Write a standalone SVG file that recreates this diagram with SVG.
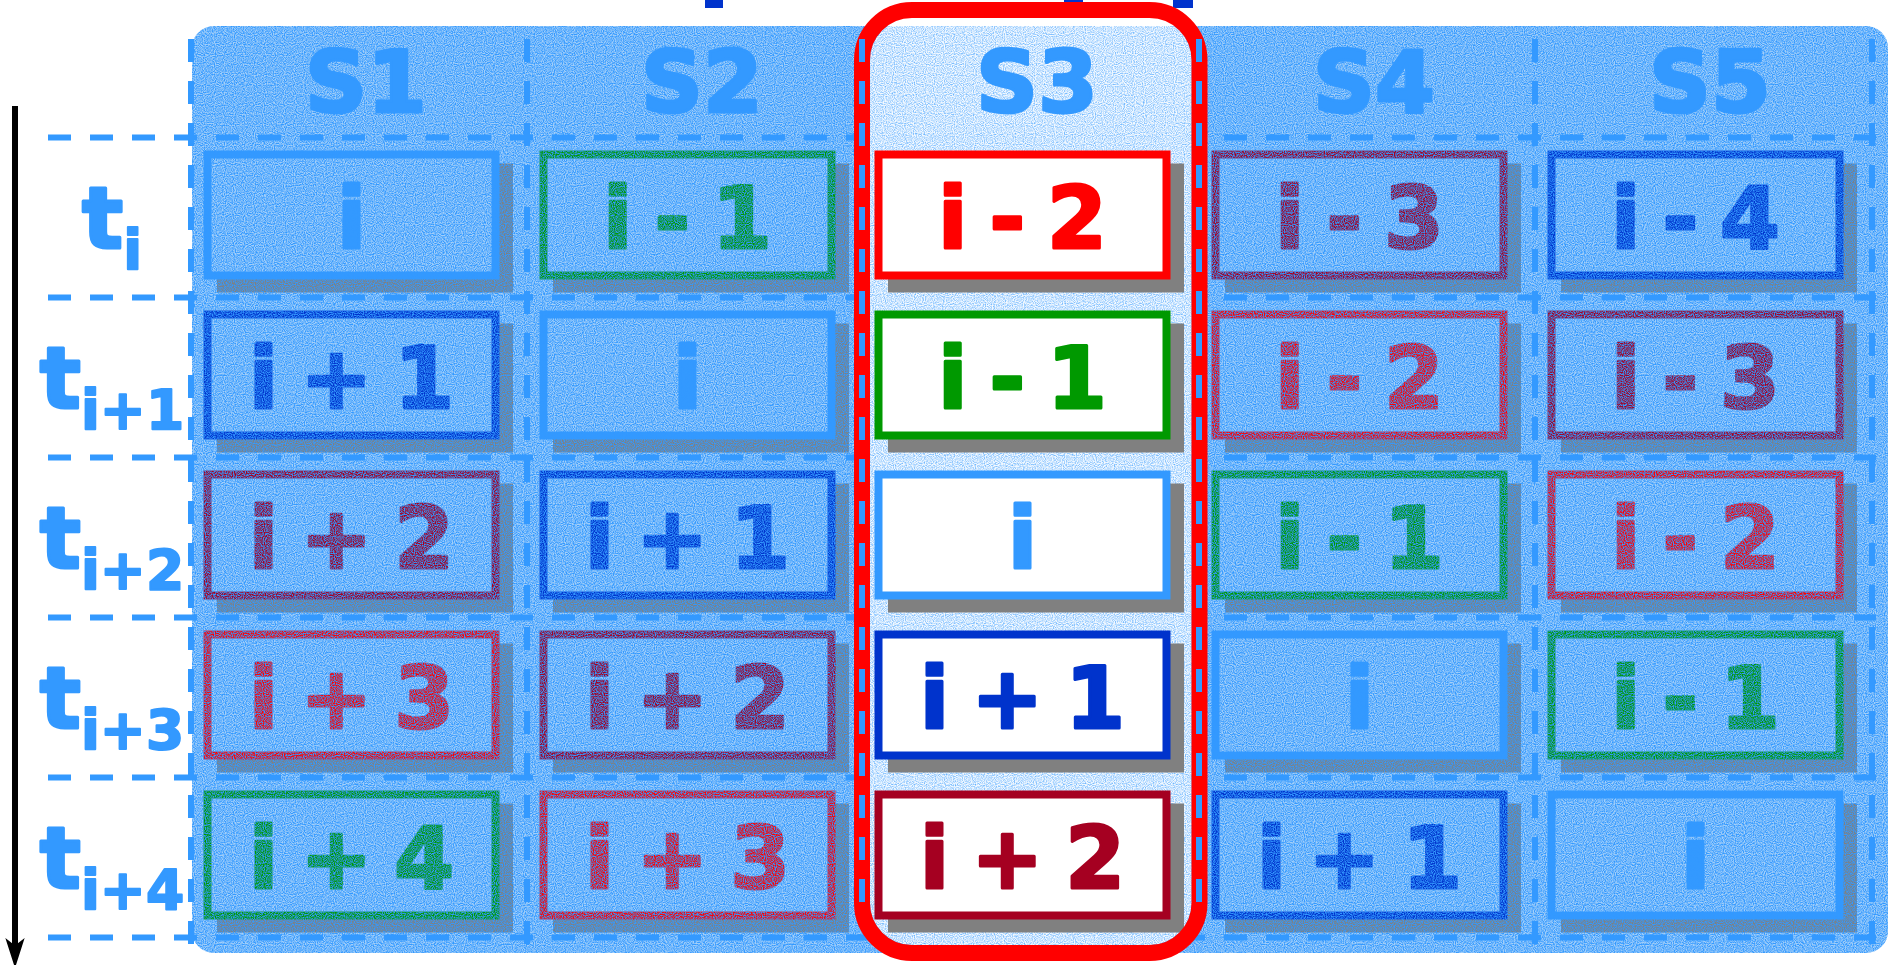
<svg xmlns="http://www.w3.org/2000/svg" width="1888" height="965" viewBox="0 0 1888 965">
<defs>
<style>
.ct{font-family:"DejaVu Sans",Verdana,sans-serif;font-weight:bold;font-size:86px;text-anchor:middle;word-spacing:-8px;stroke-width:3px;stroke-linejoin:round}
.hdr{font-family:"DejaVu Sans",Verdana,sans-serif;font-weight:bold;font-size:86px;text-anchor:middle;fill:#3399ff;stroke:#3399ff;stroke-width:3px;stroke-linejoin:round}
.lbl{font-family:"DejaVu Sans",Verdana,sans-serif;font-weight:bold;font-size:86px;text-anchor:middle;fill:#3399ff;stroke:#3399ff;stroke-width:3px;stroke-linejoin:round}
.sub{font-size:55px;stroke-width:2px}
.shadow{fill:#808080}
.box{stroke-width:8;fill:#a3cff9}
.box3{stroke-width:8;fill:#ffffff}
.grid{stroke:#3399ff;stroke-width:6;stroke-dasharray:23 19;fill:none}
.k0{stroke:#3399ff}.k1{stroke:#0033cc}.k2{stroke:#a50021}.k3{stroke:#ff0000}.k4{stroke:#009900}
.f0{fill:#3399ff;stroke:#3399ff}.f1{fill:#0033cc;stroke:#0033cc}.f2{fill:#a50021;stroke:#a50021}.f3{fill:#ff0000;stroke:#ff0000}.f4{fill:#009900;stroke:#009900}
</style>
<filter id="grain" x="0" y="0" width="1" height="1" color-interpolation-filters="sRGB">
<feTurbulence type="fractalNoise" baseFrequency="0.9" numOctaves="1" seed="5" result="n"/>
<feColorMatrix in="n" type="matrix" values="0 0 0 0 0.2  0 0 0 0 0.6  0 0 0 0 1  2.6 0 0 0 -0.82" result="c"/>
<feComposite in="c" in2="SourceGraphic" operator="in"/>
</filter>
<filter id="grainLight" x="0" y="0" width="1" height="1" color-interpolation-filters="sRGB">
<feTurbulence type="fractalNoise" baseFrequency="0.9" numOctaves="1" seed="11" result="n"/>
<feColorMatrix in="n" type="matrix" values="0 0 0 0 0.2  0 0 0 0 0.6  0 0 0 0 1  1.6 0 0 0 -0.6" result="c"/>
<feComposite in="c" in2="SourceGraphic" operator="in"/>
</filter>
<clipPath id="s3clip"><rect x="870" y="18" width="321.5" height="927" rx="42"/></clipPath>
<marker id="arrowhead" markerUnits="userSpaceOnUse" markerWidth="30" markerHeight="20" viewBox="0 0 28 18" refX="13" refY="9" orient="auto"><path d="M0,0 L28,9 L0,18 L7,9 Z" fill="#000"/></marker>
</defs>
<rect x="0" y="0" width="1888" height="965" fill="#ffffff"/>
<g id="top-fragments" fill="#0033cc">
<rect x="705" y="0" width="18" height="8"/>
<rect x="1064" y="0" width="19" height="5"/>
<rect x="1173" y="0" width="20" height="8"/>
</g>
<rect id="table-base" x="192" y="26" width="1696" height="927" rx="22" fill="#a3cff9"/>
<g id="S1-cells">
<g id="cell-t0-S1"><rect class="shadow" x="217" y="163.5" width="296" height="129"/><rect class="box k0" x="207.5" y="154.5" width="288" height="121"/><text class="ct f0" x="351.5" y="248">i</text></g>
<g id="cell-t1-S1"><rect class="shadow" x="217" y="323.5" width="296" height="129"/><rect class="box k1" x="207.5" y="314.5" width="288" height="121"/><text class="ct f1" x="351.5" y="408">i + 1</text></g>
<g id="cell-t2-S1"><rect class="shadow" x="217" y="483.5" width="296" height="129"/><rect class="box k2" x="207.5" y="474.5" width="288" height="121"/><text class="ct f2" x="351.5" y="568">i + 2</text></g>
<g id="cell-t3-S1"><rect class="shadow" x="217" y="643.5" width="296" height="129"/><rect class="box k3" x="207.5" y="634.5" width="288" height="121"/><text class="ct f3" x="351.5" y="728">i + 3</text></g>
<g id="cell-t4-S1"><rect class="shadow" x="217" y="803.5" width="296" height="129"/><rect class="box k4" x="207.5" y="794.5" width="288" height="121"/><text class="ct f4" x="351.5" y="888">i + 4</text></g>
</g>
<g id="S2-cells">
<g id="cell-t0-S2"><rect class="shadow" x="553" y="163.5" width="296" height="129"/><rect class="box k4" x="543.5" y="154.5" width="288" height="121"/><text class="ct f4" x="687.5" y="248">i - 1</text></g>
<g id="cell-t1-S2"><rect class="shadow" x="553" y="323.5" width="296" height="129"/><rect class="box k0" x="543.5" y="314.5" width="288" height="121"/><text class="ct f0" x="687.5" y="408">i</text></g>
<g id="cell-t2-S2"><rect class="shadow" x="553" y="483.5" width="296" height="129"/><rect class="box k1" x="543.5" y="474.5" width="288" height="121"/><text class="ct f1" x="687.5" y="568">i + 1</text></g>
<g id="cell-t3-S2"><rect class="shadow" x="553" y="643.5" width="296" height="129"/><rect class="box k2" x="543.5" y="634.5" width="288" height="121"/><text class="ct f2" x="687.5" y="728">i + 2</text></g>
<g id="cell-t4-S2"><rect class="shadow" x="553" y="803.5" width="296" height="129"/><rect class="box k3" x="543.5" y="794.5" width="288" height="121"/><text class="ct f3" x="687.5" y="888">i + 3</text></g>
</g>
<g id="S4-cells">
<g id="cell-t0-S4"><rect class="shadow" x="1225" y="163.5" width="296" height="129"/><rect class="box k2" x="1215.5" y="154.5" width="288" height="121"/><text class="ct f2" x="1359.5" y="248">i - 3</text></g>
<g id="cell-t1-S4"><rect class="shadow" x="1225" y="323.5" width="296" height="129"/><rect class="box k3" x="1215.5" y="314.5" width="288" height="121"/><text class="ct f3" x="1359.5" y="408">i - 2</text></g>
<g id="cell-t2-S4"><rect class="shadow" x="1225" y="483.5" width="296" height="129"/><rect class="box k4" x="1215.5" y="474.5" width="288" height="121"/><text class="ct f4" x="1359.5" y="568">i - 1</text></g>
<g id="cell-t3-S4"><rect class="shadow" x="1225" y="643.5" width="296" height="129"/><rect class="box k0" x="1215.5" y="634.5" width="288" height="121"/><text class="ct f0" x="1359.5" y="728">i</text></g>
<g id="cell-t4-S4"><rect class="shadow" x="1225" y="803.5" width="296" height="129"/><rect class="box k1" x="1215.5" y="794.5" width="288" height="121"/><text class="ct f1" x="1359.5" y="888">i + 1</text></g>
</g>
<g id="S5-cells">
<g id="cell-t0-S5"><rect class="shadow" x="1561" y="163.5" width="296" height="129"/><rect class="box k1" x="1551.5" y="154.5" width="288" height="121"/><text class="ct f1" x="1695.5" y="248">i - 4</text></g>
<g id="cell-t1-S5"><rect class="shadow" x="1561" y="323.5" width="296" height="129"/><rect class="box k2" x="1551.5" y="314.5" width="288" height="121"/><text class="ct f2" x="1695.5" y="408">i - 3</text></g>
<g id="cell-t2-S5"><rect class="shadow" x="1561" y="483.5" width="296" height="129"/><rect class="box k3" x="1551.5" y="474.5" width="288" height="121"/><text class="ct f3" x="1695.5" y="568">i - 2</text></g>
<g id="cell-t3-S5"><rect class="shadow" x="1561" y="643.5" width="296" height="129"/><rect class="box k4" x="1551.5" y="634.5" width="288" height="121"/><text class="ct f4" x="1695.5" y="728">i - 1</text></g>
<g id="cell-t4-S5"><rect class="shadow" x="1561" y="803.5" width="296" height="129"/><rect class="box k0" x="1551.5" y="794.5" width="288" height="121"/><text class="ct f0" x="1695.5" y="888">i</text></g>
</g>
<rect id="table-overlay" x="192" y="26" width="1696" height="927" rx="22" fill="#3399ff" filter="url(#grain)"/>
<g id="headers">
<text id="hdr-S1" class="hdr" x="366" y="112">S1</text>
<text id="hdr-S2" class="hdr" x="702" y="112">S2</text>
<text id="hdr-S4" class="hdr" x="1374" y="112">S4</text>
<text id="hdr-S5" class="hdr" x="1710" y="112">S5</text>
</g>
<g id="row-labels">
<text id="lbl-t0" class="lbl" x="112" y="248">t<tspan class="sub" dy="21">i</tspan></text>
<text id="lbl-t1" class="lbl" x="112" y="408">t<tspan class="sub" dy="21">i+1</tspan></text>
<text id="lbl-t2" class="lbl" x="112" y="568">t<tspan class="sub" dy="21">i+2</tspan></text>
<text id="lbl-t3" class="lbl" x="112" y="728">t<tspan class="sub" dy="21">i+3</tspan></text>
<text id="lbl-t4" class="lbl" x="112" y="888">t<tspan class="sub" dy="21">i+4</tspan></text>
</g>
<g id="grid-lines" class="grid">
<line x1="48" y1="137.5" x2="1876" y2="137.5"/>
<line x1="48" y1="297.5" x2="1876" y2="297.5"/>
<line x1="48" y1="457.5" x2="1876" y2="457.5"/>
<line x1="48" y1="617.5" x2="1876" y2="617.5"/>
<line x1="48" y1="777.5" x2="1876" y2="777.5"/>
<line x1="48" y1="937.5" x2="1876" y2="937.5"/>
<line x1="191" y1="39" x2="191" y2="958"/>
<line x1="527" y1="39" x2="527" y2="950"/>
<line x1="1535" y1="39" x2="1535" y2="950"/>
<line x1="1872" y1="39" x2="1872" y2="948"/>
</g>
<g id="S3-column">
<g clip-path="url(#s3clip)">
<rect x="862" y="26" width="338" height="927" fill="#ffffff" opacity="0.9"/>
<rect id="S3-panel" x="862" y="26" width="338" height="927" fill="#3399ff" filter="url(#grainLight)"/>
</g>
<text id="hdr-S3" class="hdr" x="1037" y="112">S3</text>
<g id="cell-t0-S3"><rect class="shadow" x="888" y="163.5" width="296" height="129"/><rect class="box3 k3" x="878.5" y="154.5" width="288" height="121"/><text class="ct f3" x="1022.5" y="248">i - 2</text></g>
<g id="cell-t1-S3"><rect class="shadow" x="888" y="323.5" width="296" height="129"/><rect class="box3 k4" x="878.5" y="314.5" width="288" height="121"/><text class="ct f4" x="1022.5" y="408">i - 1</text></g>
<g id="cell-t2-S3"><rect class="shadow" x="888" y="483.5" width="296" height="129"/><rect class="box3 k0" x="878.5" y="474.5" width="288" height="121"/><text class="ct f0" x="1022.5" y="568">i</text></g>
<g id="cell-t3-S3"><rect class="shadow" x="888" y="643.5" width="296" height="129"/><rect class="box3 k1" x="878.5" y="634.5" width="288" height="121"/><text class="ct f1" x="1022.5" y="728">i + 1</text></g>
<g id="cell-t4-S3"><rect class="shadow" x="888" y="803.5" width="296" height="129"/><rect class="box3 k2" x="878.5" y="794.5" width="288" height="121"/><text class="ct f2" x="1022.5" y="888">i + 2</text></g>
</g>
<g id="S3-highlight">
<rect x="862" y="10" width="337.5" height="943" rx="50" fill="none" stroke="#ff0000" stroke-width="16"/>
</g>
<g id="S3-edge-lines" class="grid">
<line x1="862" y1="39" x2="862" y2="912"/>
<line x1="1199" y1="39" x2="1199" y2="912"/>
</g>
<g id="connectors">
<line id="time-arrow" x1="15" y1="106" x2="15" y2="952" stroke="#000" stroke-width="6" marker-end="url(#arrowhead)"/>
</g>
</svg>
